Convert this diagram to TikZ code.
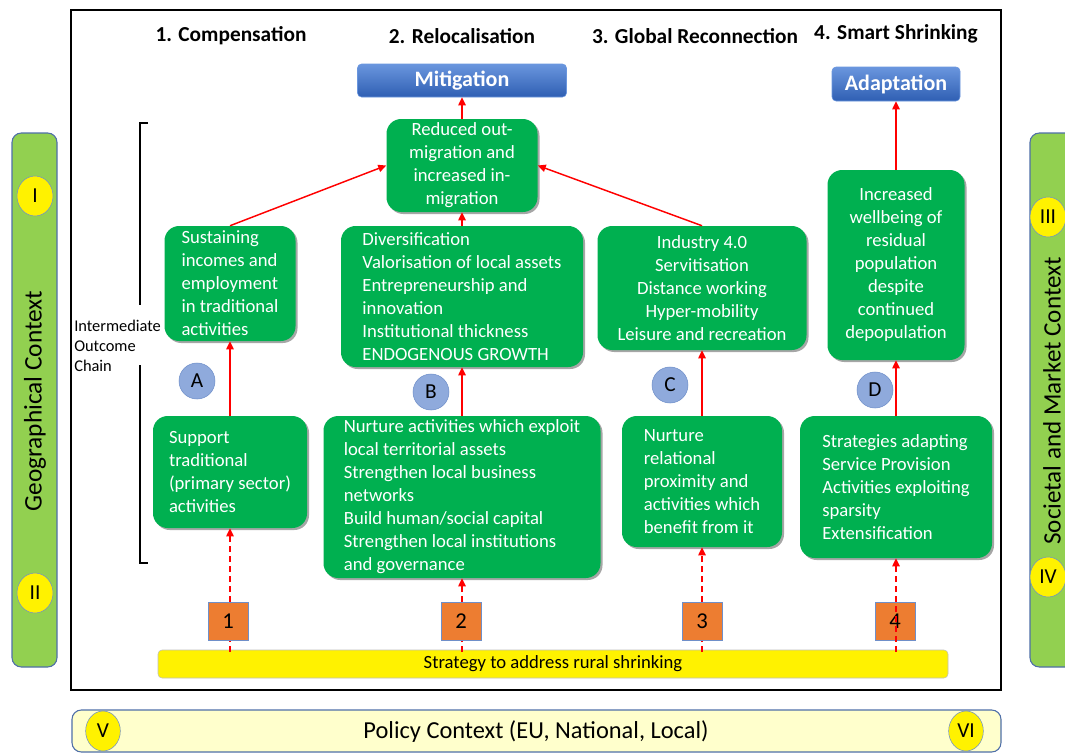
\documentclass[tikz,border=0pt]{standalone}
\usepackage{fontspec}
\setmainfont{Carlito}
\usetikzlibrary{shadows,arrows.meta,shapes.geometric}
\definecolor{gr}{HTML}{00B050}
\definecolor{lgr}{HTML}{92D050}
\definecolor{blt}{HTML}{6A96DE}
\definecolor{blb}{HTML}{2F5FB3}
\definecolor{cir}{HTML}{8FAADC}
\definecolor{cirb}{HTML}{6F8FC9}
\definecolor{org}{HTML}{ED7D31}
\definecolor{ctxb}{HTML}{4F6FA8}
\definecolor{pale}{HTML}{FFFFCC}
\definecolor{ylb}{HTML}{BFBFBF}
\begin{document}
\begin{tikzpicture}[x=0.75pt,y=-0.75pt,
  gbox/.style={fill=gr, rounded corners=11pt, text=white, inner sep=0pt,
    font=\fontsize{14}{17.25}\selectfont,
    drop shadow={shadow xshift=1.5pt, shadow yshift=-1.5pt, opacity=0.35, fill=black}},
  bbox/.style={top color=blt, bottom color=blb, draw=blt, rounded corners=3pt,
    text=white, font=\fontsize{16.5}{18}\selectfont\bfseries, inner sep=0pt},
  hdr/.style={font=\fontsize{16}{18}\selectfont\bfseries, inner sep=0pt},
  letter/.style={circle, fill=cir, draw=cirb, minimum size=27pt, inner sep=0pt,
    font=\fontsize{16}{18}\selectfont},
  numsq/.style={fill=org, draw=cirb, minimum width=30pt, minimum height=28.5pt,
    inner sep=0pt, font=\fontsize{17}{19}\selectfont},
  roman/.style={ellipse, fill=yellow, draw=cirb, minimum width=27pt,
    minimum height=30pt, inner sep=0pt, font=\fontsize{16}{18}\selectfont},
  ctxbar/.style={fill=lgr, draw=ctxb, rounded corners=7pt, line width=0.8pt},
  arr/.style={red, line width=1.1pt, -{Triangle[length=6pt,width=5.5pt]}},
  darr/.style={red, line width=1.1pt, dash pattern=on 4.5pt off 3pt,
    -{Triangle[length=6pt,width=5.5pt]}}
]
\useasboundingbox (0,0) rectangle (1065,754);

% context bars
\path[ctxbar] (12,133) rectangle (57,667);
\node[rotate=90, font=\fontsize{19}{21}\selectfont] (geo) at (35,401) {Geographical Context};
\node[roman] (rI) at (35,196) {I};
\node[roman] (rII) at (35,593) {II};

\path[ctxbar] (1030,133) rectangle (1085,667);
\node[rotate=90, font=\fontsize{18.8}{21}\selectfont] (soc) at (1052,401) {Societal and Market Context};
\node[roman] (rIII) at (1048,217) {III};
\node[roman] (rIV) at (1048,577) {IV};

\path[fill=pale, draw=ctxb, rounded corners=7pt, line width=0.8pt] (72,710) rectangle (1001,752);
\node[font=\fontsize{18.3}{20}\selectfont] (pol) at (536,732) {Policy Context (EU, National, Local)};
\node[roman, minimum width=26pt] (rV) at (103,731) {V};
\node[roman, minimum width=26pt] (rVI) at (966,731) {VI};

% main frame
\draw[line width=1.3pt] (71,10) rectangle (1001,690);

% headers
\node[hdr] (h1) at (231,36) {1. Compensation};
\node[hdr] (h2) at (462,36) {2. Relocalisation};
\node[hdr] (h3) at (695,36) {3. Global Reconnection};
\node[hdr] (h4) at (896,34) {4. Smart Shrinking};

% bracket
\draw[line width=1.1pt] (148,123) -- (140,123) -- (140,305);
\draw[line width=1.1pt] (140,365) -- (140,563) -- (148,563);
\node[anchor=north west, align=left, inner sep=0pt, font=\fontsize{12.3}{15}\selectfont] (ioc) at (74,320)
  {Intermediate\\Outcome\\Chain};

% blue boxes
\node[bbox, minimum width=156.75pt, minimum height=24.75pt] (mit) at (462,80.5) {Mitigation};
\node[bbox, minimum width=96pt, minimum height=25.5pt] (ada) at (896,84) {Adaptation};

% green boxes (outcomes)
\node[gbox, minimum width=113.25pt, minimum height=69.75pt, align=center] (red) at (462,165.5)
  {Reduced out-\\migration and\\increased in-\\migration};
\node[gbox, minimum width=98.25pt, minimum height=86.25pt, align=left] (sus) at (230,283.5)
  {Sustaining\\incomes and\\employment\\in traditional\\activities};
\node[gbox, minimum width=181.5pt, minimum height=105.75pt, align=left] (div) at (462,296.5)
  {Diversification\\Valorisation of local assets\\Entrepreneurship and\\innovation\\Institutional thickness\\ENDOGENOUS GROWTH};
\node[gbox, minimum width=156.75pt, minimum height=93pt, align=center] (ind) at (702,288)
  {Industry 4.0\\Servitisation\\Distance working\\Hyper-mobility\\Leisure and recreation};
\node[gbox, minimum width=102.75pt, minimum height=142.5pt, align=center] (wel) at (896,265)
  {Increased\\wellbeing of\\residual\\population\\despite\\continued\\depopulation};

% green boxes (strategies)
\node[gbox, minimum width=115.5pt, minimum height=84pt, align=left] (sup) at (230,472)
  {Support\\traditional\\(primary sector)\\activities};
\node[gbox, minimum width=207.75pt, minimum height=121.5pt, align=left] (nur) at (462,497)
  {Nurture activities which exploit\\local territorial assets\\Strengthen local business\\networks\\Build human/social capital\\Strengthen local institutions\\and governance};
\node[gbox, minimum width=120pt, minimum height=98.25pt, align=left] (rel) at (702,481.5)
  {Nurture\\relational\\proximity and\\activities which\\benefit from it};
\node[gbox, minimum width=144pt, minimum height=106.5pt, align=left] (stra) at (896,487)
  {Strategies adapting\\Service Provision\\Activities exploiting\\sparsity\\Extensification};

% letters
\node[letter] (A) at (197,381) {A};
\node[letter] (B) at (431,392) {B};
\node[letter] (C) at (670,385) {C};
\node[letter] (D) at (875,390) {D};

% yellow strategy bar
\node[fill=yellow, draw=ylb, rounded corners=3pt, minimum width=592.5pt, minimum height=21pt,
  inner sep=0pt, font=\fontsize{14}{16}\selectfont] (bar) at (553,664) {Strategy to address rural shrinking};

% solid arrows
\draw[arr] (sup.north) -- (sus.south);
\draw[arr] (nur.north) -- (div.south);
\draw[arr] (rel.north) -- (ind.south);
\draw[arr] (stra.north) -- (wel.south);
\draw[arr] (sus.north) -- (red.west);
\draw[arr] (ind.north) -- (red.east);
\draw[arr] (div.north) -- (red.south);
\draw[arr] (red.north) -- (mit.south);
\draw[arr] (wel.north) -- (ada.south);

% dashed arrows
\coordinate (b1) at (230,652);
\coordinate (b2) at (462,652);
\coordinate (b3) at (702,652);
\coordinate (b4) at (896,652);
\draw[darr] (b1) -- (sup.south);
\draw[darr] (b2) -- (nur.south);
\draw[darr] (b3) -- (rel.south);

\node[numsq] (n1) at (228,621) {1};
\node[numsq] (n2) at (461,621) {2};
\node[numsq] (n3) at (702,621) {3};
\node[numsq] (n4) at (895,621) {4};
\draw[darr] (b4) -- (stra.south);
\end{tikzpicture}
\end{document}
